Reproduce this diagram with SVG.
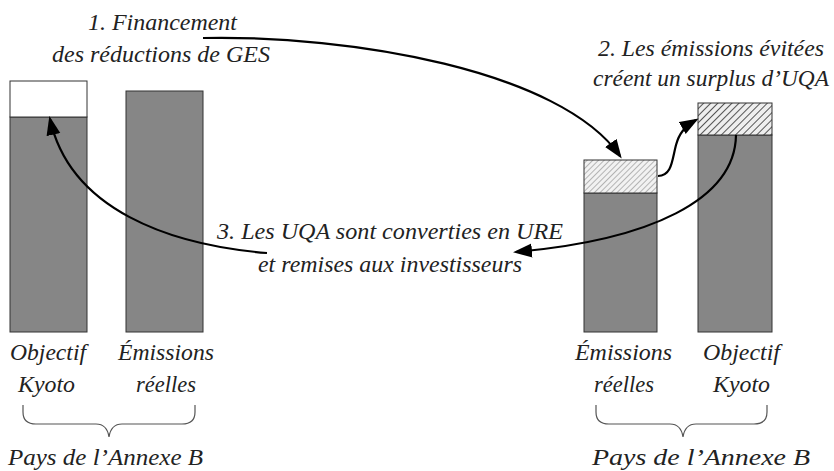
<svg xmlns="http://www.w3.org/2000/svg" width="834" height="471" viewBox="0 0 834 471">
<style>
  .t{font-family:"Liberation Serif","Times New Roman","DejaVu Serif",serif;font-style:italic;font-size:23px;fill:#222;text-anchor:middle}
  .bar{fill:#868686;stroke:#333;stroke-width:1}
  .emp{fill:#fff;stroke:#333;stroke-width:1}
  .c{fill:none;stroke:#000;stroke-width:2.2}
  .br{fill:none;stroke:#555;stroke-width:1.2}
</style>
<defs>
  <pattern id="h1" patternUnits="userSpaceOnUse" width="4" height="4" patternTransform="rotate(45)">
    <rect width="4" height="4" fill="#f2f2f2"/>
    <line x1="0" y1="0" x2="0" y2="4" stroke="#8a8a8a" stroke-width="1.2"/>
  </pattern>
  <pattern id="h2" patternUnits="userSpaceOnUse" width="5" height="5" patternTransform="rotate(45)">
    <rect width="5" height="5" fill="#eee"/>
    <line x1="0" y1="0" x2="0" y2="5" stroke="#555" stroke-width="2"/>
  </pattern>
  <marker id="ah" markerUnits="userSpaceOnUse" markerWidth="20" markerHeight="16" refX="16" refY="7" orient="auto">
    <path d="M0,0 L19,7 L0,14 z" fill="#000"/>
  </marker>
</defs>
<rect width="834" height="471" fill="#fff"/>

<g id="bar-objectif-left">
  <rect class="bar" x="10" y="117" width="77" height="215"/>
  <rect class="emp" x="10" y="81" width="77" height="36"/>
</g>
<g id="bar-emissions-left">
  <rect class="bar" x="126" y="91" width="77" height="241"/>
</g>
<g id="bar-emissions-right">
  <rect class="bar" x="584" y="193" width="73" height="139"/>
  <rect x="584" y="160" width="73" height="33" fill="url(#h1)" stroke="#333" stroke-width="1"/>
</g>
<g id="bar-objectif-right">
  <rect class="bar" x="698" y="135" width="74" height="197"/>
  <rect x="698" y="103" width="74" height="32" fill="url(#h2)" stroke="#333" stroke-width="1"/>
</g>

<g id="connectors">
  <path class="c" d="M203,38 C350,35 560,70 620,156" marker-end="url(#ah)"/>
  <path class="c" d="M658,176 C672,176 672,160 676,145 C679,134 684,127 696,120" marker-end="url(#ah)"/>
  <path class="c" d="M736,135 C735,200 650,240 516,252" marker-end="url(#ah)"/>
  <path class="c" d="M267,253 C170,245 70,210 50,119" marker-end="url(#ah)"/>
</g>

<g id="label-1">
  <text class="t" x="162.5" y="30" textLength="149" lengthAdjust="spacingAndGlyphs">1. Financement</text>
  <text class="t" x="161" y="62" textLength="218" lengthAdjust="spacingAndGlyphs">des réductions de GES</text>
</g>
<g id="label-2">
  <text class="t" x="711" y="56" textLength="226" lengthAdjust="spacingAndGlyphs">2. Les émissions évitées</text>
  <text class="t" x="711" y="86" textLength="236" lengthAdjust="spacingAndGlyphs">créent un surplus d’UQA</text>
</g>
<g id="label-3">
  <text class="t" x="390" y="239" textLength="346" lengthAdjust="spacingAndGlyphs">3. Les UQA sont converties en URE</text>
  <text class="t" x="390" y="272" textLength="264" lengthAdjust="spacingAndGlyphs">et remises aux investisseurs</text>
</g>

<g id="labels-left">
  <text class="t" x="48" y="360" textLength="76" lengthAdjust="spacingAndGlyphs">Objectif</text>
  <text class="t" x="46.5" y="392" textLength="57" lengthAdjust="spacingAndGlyphs">Kyoto</text>
  <text class="t" x="166" y="360" textLength="96" lengthAdjust="spacingAndGlyphs">Émissions</text>
  <text class="t" x="166" y="392" textLength="60" lengthAdjust="spacingAndGlyphs">réelles</text>
</g>
<g id="labels-right">
  <text class="t" x="623.5" y="360" textLength="97" lengthAdjust="spacingAndGlyphs">Émissions</text>
  <text class="t" x="624" y="392" textLength="60" lengthAdjust="spacingAndGlyphs">réelles</text>
  <text class="t" x="741.5" y="360" textLength="77" lengthAdjust="spacingAndGlyphs">Objectif</text>
  <text class="t" x="741.5" y="392" textLength="57" lengthAdjust="spacingAndGlyphs">Kyoto</text>
</g>

<g id="brace-left">
  <path class="br" d="M23,405 V412 Q23,424 36,424 H96 Q107,424 109,437 Q111,424 122,424 H182 Q195,424 195,412 V405"/>
  <text class="t" x="105.5" y="465" textLength="195" lengthAdjust="spacingAndGlyphs">Pays de l’Annexe B</text>
</g>
<g id="brace-right">
  <path class="br" d="M596,405 V412 Q596,424 609,424 H670 Q681,424 683,437 Q685,424 696,424 H754 Q767,424 767,412 V405"/>
  <text class="t" x="701" y="465" textLength="218" lengthAdjust="spacingAndGlyphs">Pays de l’Annexe B</text>
</g>
</svg>
